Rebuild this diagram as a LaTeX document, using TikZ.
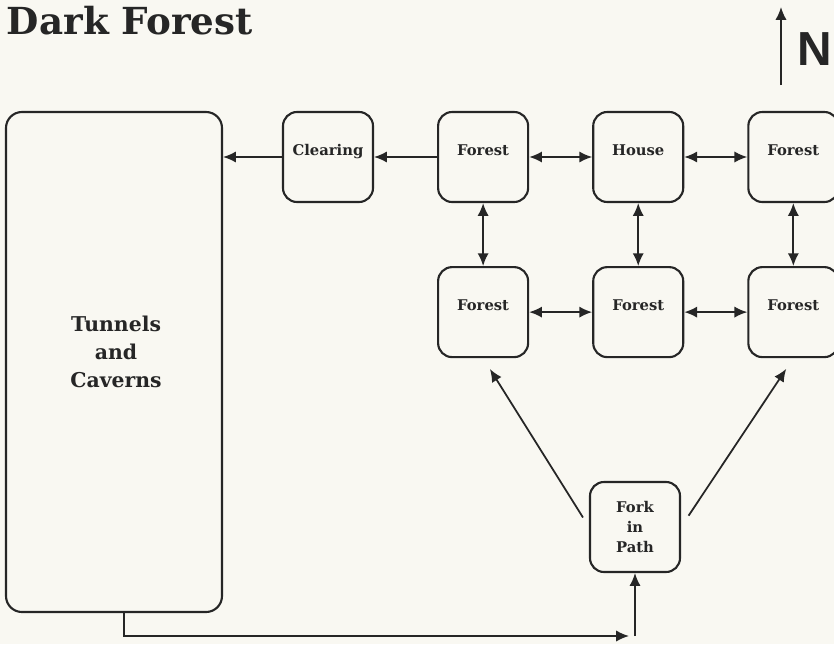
\documentclass[tikz,border=0pt]{standalone}
\usepackage{fontspec}
\setmainfont{DejaVu Serif}
\newfontfamily\signfont{Liberation Sans}
\usetikzlibrary{positioning,arrows.meta,calc}
\definecolor{ink}{RGB}{38,38,38}
\definecolor{paper}{RGB}{249,248,242}

\begin{document}
\begin{tikzpicture}[x=0.25mm, y=-0.25mm, ink,
        box/.style={draw, rounded corners=3.5mm, line width=1.5pt,
          minimum size=22.5mm, inner sep=0pt, align=center,
          font=\bfseries\fontsize{10.5}{14}\selectfont},
        room/.style={box, text height=2.8mm, text depth=3.7mm},
        link/.style={line width=1.25pt, -{Latex[length=3.2mm, width=2.8mm]}},
        both/.style={link, {Latex[length=3.2mm, width=2.8mm]}-{Latex[length=3.2mm, width=2.8mm]}},
        node distance=15.75mm
        ]
        \fill[paper] (0,0) rectangle (834,644);
        \useasboundingbox (0,0) rectangle (834,644);

        \node[anchor=base west, font=\bfseries\fontsize{26.5}{30}\selectfont] (title) at (2,34) {Dark Forest};
        \node[anchor=base west, font=\signfont\bfseries\fontsize{34}{40}\selectfont] (N) at (793,65) {N};
        \coordinate (tail) at (781,85);
        \coordinate (head) at (781,7);
        \draw[link] (tail) -- (head);

        \node[box, minimum width=54mm, minimum height=125mm, rounded corners=4mm] (caves) at (114,362) {};
        \node[align=center, font=\bfseries\fontsize{14.5}{20}\selectfont] (cavesname) at (116,352) {Tunnels\\and\\Caverns};

        \node[room] (clearing) at (328,157) {Clearing};
        \node[room, right = of clearing] (f11) {Forest};
        \node[room, right = of f11] (house) {House};
        \node[room, right = of house] (f13) {Forest};
        \node[room, below = of f11] (f21) {Forest};
        \node[room, below = of house] (f22) {Forest};
        \node[room, below = of f13] (f23) {Forest};
        \node[box] (fork) at (635,527) {Fork\\in\\Path};

        \draw[link] (clearing.west) -- (clearing.west -| caves.east);
        \draw[link] (f11) -- (clearing);
        \draw[both] (f11) -- (house);
        \draw[both] (house) -- (f13);
        \draw[both] (f11) -- (f21);
        \draw[both] (house) -- (f22);
        \draw[both] (f13) -- (f23);
        \draw[both] (f21) -- (f22);
        \draw[both] (f22) -- (f23);

        \draw[link, shorten <=2.8mm, shorten >=3.2mm] (fork.west) -- (f21.south);
        \draw[link, shorten <=3.4mm, shorten >=3.2mm] (fork.east) -- (f23.south);

        \coordinate (bend) at (124,636);
        \coordinate (joint) at (fork.south |- bend);
        \draw[link] (caves.south -| bend) -- (bend) -- ([xshift=-1.5mm]joint);
        \draw[link] (joint) -- (fork.south);
      \end{tikzpicture}
\end{document}
